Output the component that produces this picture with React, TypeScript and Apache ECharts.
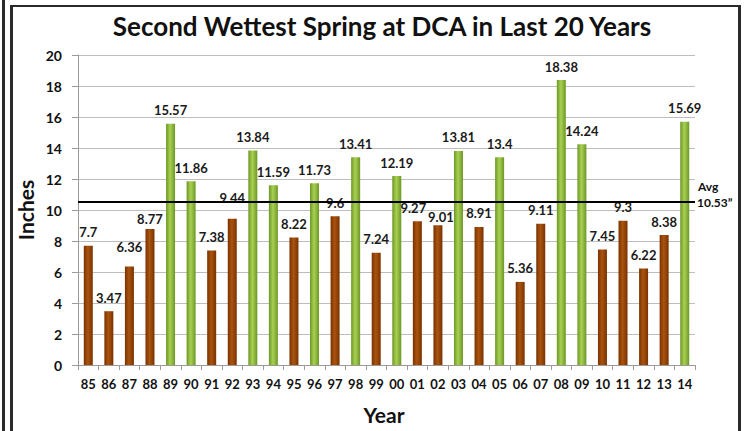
import React, { useEffect, useRef } from "react";
import * as echarts from "echarts";

const years = ["85","86","87","88","89","90","91","92","93","94","95","96","97","98","99","00","01","02","03","04","05","06","07","08","09","10","11","12","13","14"];
const rainfall = [7.7,3.47,6.36,8.77,15.57,11.86,7.38,9.44,13.84,11.59,8.22,11.73,9.6,13.41,7.24,12.19,9.27,9.01,13.81,8.91,13.4,5.36,9.11,18.38,14.24,7.45,9.3,6.22,8.38,15.69];
const labelNudgeX = [0,0,0,0,0,0,0,0,0,0,0,0,0,0,0,0,-4,3,0,0,0,0,0,0,0,0,0,0,0,0];
const labelNudgeY = [0,0,-6,3,0,0,0,-7,0,0,0,0,0,0,0,0,0,5,0,0,0,0,0,0,0,0,0,0,0,0];
const average = 10.53;
const yTicks = [0, 20, 2];

const FONT = "Lato, 'Noto Sans', sans-serif";

const grad = (edge: string, mid: string) =>
  new echarts.graphic.LinearGradient(0, 0, 1, 0, [
    { offset: 0, color: edge },
    { offset: 0.45, color: mid },
    { offset: 1, color: edge },
  ]);

export default function App() {
  const ref = useRef<HTMLDivElement>(null);
  useEffect(() => {
    if (!ref.current) return;
    const chart = echarts.init(ref.current, null, { renderer: "svg" });
    const brown = grad("#7a3200", "#a9540f");
    const green = grad("#6c9726", "#a8d152");
    const data = rainfall.map((v, i) => ({
      value: v,
      itemStyle: { color: v > average ? green : brown },
      label: { offset: [labelNudgeX[i], labelNudgeY[i]] },
    }));
    chart.setOption({
      animation: false,
      backgroundColor: "#ffffff",
      textStyle: { fontFamily: FONT },
      grid: { left: 78, right: 49, top: 55, bottom: 66 },
      xAxis: {
        type: "category",
        data: years,
        boundaryGap: true,
        axisLine: { lineStyle: { color: "#9a9a9a", width: 1 } },
        axisTick: { show: true, length: 5, lineStyle: { color: "#9a9a9a" } },
        axisLabel: { color: "#111", fontSize: 13, fontWeight: "bold", fontFamily: FONT, margin: 12, interval: 0 },
      },
      yAxis: {
        type: "value",
        min: yTicks[0],
        max: yTicks[1],
        interval: yTicks[2],
        axisLine: { show: true, lineStyle: { color: "#9a9a9a" } },
        axisTick: { show: true, length: 6, lineStyle: { color: "#9a9a9a" } },
        axisLabel: { color: "#111", fontSize: 14, fontWeight: "bold", fontFamily: FONT, margin: 16 },
        splitLine: { lineStyle: { color: "#bdbdbd", width: 1 } },
      },
      series: [
        {
          type: "bar",
          data,
          barWidth: 9,
          label: {
            show: true,
            position: "top",
            distance: 7,
            color: "#1a1a1a",
            fontSize: 13,
            fontWeight: "bold",
            fontFamily: FONT,
          },
          markLine: {
            silent: true,
            symbol: "none",
            label: { show: false },
            lineStyle: { color: "#000", width: 2, type: "solid" },
            data: [{ yAxis: average }],
          },
        },
      ],
      graphic: [
        { type: "rect", shape: { x: 2, y: 0, width: 3, height: 431 }, style: { fill: "#2a2a2a" } },
        { type: "rect", shape: { x: 10, y: 5, width: 3, height: 426 }, style: { fill: "#2a2a2a" } },
        { type: "rect", shape: { x: 10, y: 5, width: 731, height: 2 }, style: { fill: "#2a2a2a" } },
        { type: "rect", shape: { x: 738, y: 5, width: 3, height: 426 }, style: { fill: "#2a2a2a" } },
        {
          type: "text",
          x: 382,
          y: 26,
          style: {
            text: "Second Wettest Spring at DCA in Last 20 Years",
            fontSize: 26,
            fontWeight: "bold",
            fontFamily: FONT,
            fill: "#111",
            align: "center",
            verticalAlign: "middle",
          },
        },
        {
          type: "text",
          x: 25,
          y: 210,
          rotation: Math.PI / 2,
          style: {
            text: "Inches",
            fontSize: 21,
            fontWeight: "bold",
            fontFamily: FONT,
            fill: "#111",
            align: "center",
            verticalAlign: "middle",
          },
        },
        {
          type: "text",
          x: 384,
          y: 414,
          style: {
            text: "Year",
            fontSize: 21,
            fontWeight: "bold",
            fontFamily: FONT,
            fill: "#111",
            align: "center",
            verticalAlign: "middle",
          },
        },
        {
          type: "text",
          x: 698,
          y: 186,
          style: { text: "Avg", fontSize: 12, fontWeight: "bold", fontFamily: FONT, fill: "#111", verticalAlign: "middle" },
        },
        {
          type: "text",
          x: 697,
          y: 202,
          style: { text: "10.53\u201d", fontSize: 12, fontWeight: "bold", fontFamily: FONT, fill: "#111", verticalAlign: "middle" },
        },
      ],
    });
    return () => chart.dispose();
  }, []);
  return (
    <div
      ref={ref}
      style={{ position: "absolute", left: 0, top: 0, width: 744, height: 431 }}
    />
  );
}
